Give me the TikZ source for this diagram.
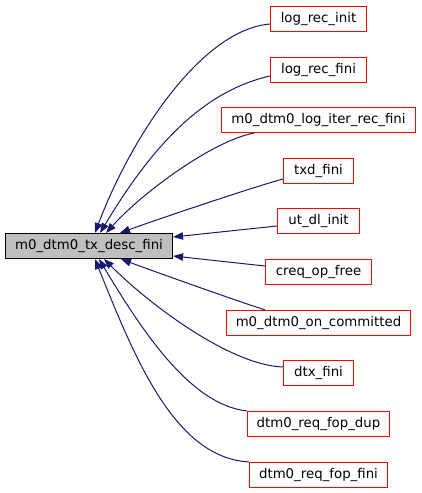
\documentclass[tikz,border=0pt]{standalone}
\usepackage{fontspec}
\setmainfont{DejaVu Sans}
\usetikzlibrary{arrows.meta,calc}
\definecolor{edgeblue}{HTML}{191970}
\definecolor{nodegray}{HTML}{BFBFBF}
\definecolor{borderred}{HTML}{FF0000}
\begin{document}
\begin{tikzpicture}[x=1pt,y=-1pt,
  every node/.style={font=\fontsize{13.33}{16}\selectfont},
  fn/.style={draw=borderred, line width=1.2pt, fill=white, inner xsep=0pt, inner ysep=0pt, minimum height=25pt, minimum width=#1},
  mainfn/.style={draw=black, fill=nodegray, line width=1.1pt, inner xsep=0pt, inner ysep=0pt, minimum height=25pt, minimum width=167pt},
  edge/.style={draw=edgeblue, line width=1pt, -{Triangle[length=10pt,width=7.5pt]}}]
\useasboundingbox (0,0) rectangle (421,493);

\node[mainfn] (main) at (89,246) {m0\_dtm0\_tx\_desc\_fini};

\node[fn=96pt] (n1) at (318.5,19) {log\_rec\_init};
\node[fn=96pt] (n2) at (318.5,70) {log\_rec\_fini};
\node[fn=194pt] (n3) at (318.5,120) {m0\_dtm0\_log\_iter\_rec\_fini};
\node[fn=70pt] (n4) at (318.5,171) {txd\_fini};
\node[fn=82pt] (n5) at (318.5,221) {ut\_dl\_init};
\node[fn=106pt] (n6) at (318.5,272) {creq\_op\_free};
\node[fn=184pt] (n7) at (318.5,323) {m0\_dtm0\_on\_committed};
\node[fn=70pt] (n8) at (318.5,373) {dtx\_fini};
\node[fn=142pt] (n9) at (318.5,424) {dtm0\_req\_fop\_dup};
\node[fn=138pt] (n10) at (318.5,475) {dtm0\_req\_fop\_fini};

\draw[edge] ($(n1.west)+(0,5)$) .. controls (200,30) and (130,140) .. ($(main.north)+(6,0)$);
\draw[edge] ($(n2.west)+(0,6)$) .. controls (200,92) and (150,150) .. ($(main.north)+(11,0)$);
\draw[edge] ($(n3.south)+(-64.5,0)$) .. controls (215,140) and (145,190) .. ($(main.north)+(17,0)$);
\draw[edge] ($(n4.west)+(0,8)$) .. controls (250,188) and (150,222) .. ($(main.north)+(31,0)$);
\draw[edge] ($(n5.west)+(0,5)$) -- ($(main.east)+(0,-9)$);
\draw[edge] ($(n6.west)+(0,-6)$) -- ($(main.east)+(0,10)$);
\draw[edge] ($(n7.north)+(-53.5,0)$) .. controls (240,302) and (150,270) .. ($(main.south)+(32,0)$);
\draw[edge] ($(n8.west)+(0,-6)$) .. controls (230,365) and (150,305) .. ($(main.south)+(15,0)$);
\draw[edge] (n9.north west) .. controls (190,405) and (141,329) .. ($(main.south)+(10,0)$);
\draw[edge] (n10.north west) .. controls (175,458) and (135,359) .. ($(main.south)+(6,0)$);
\end{tikzpicture}
\end{document}
